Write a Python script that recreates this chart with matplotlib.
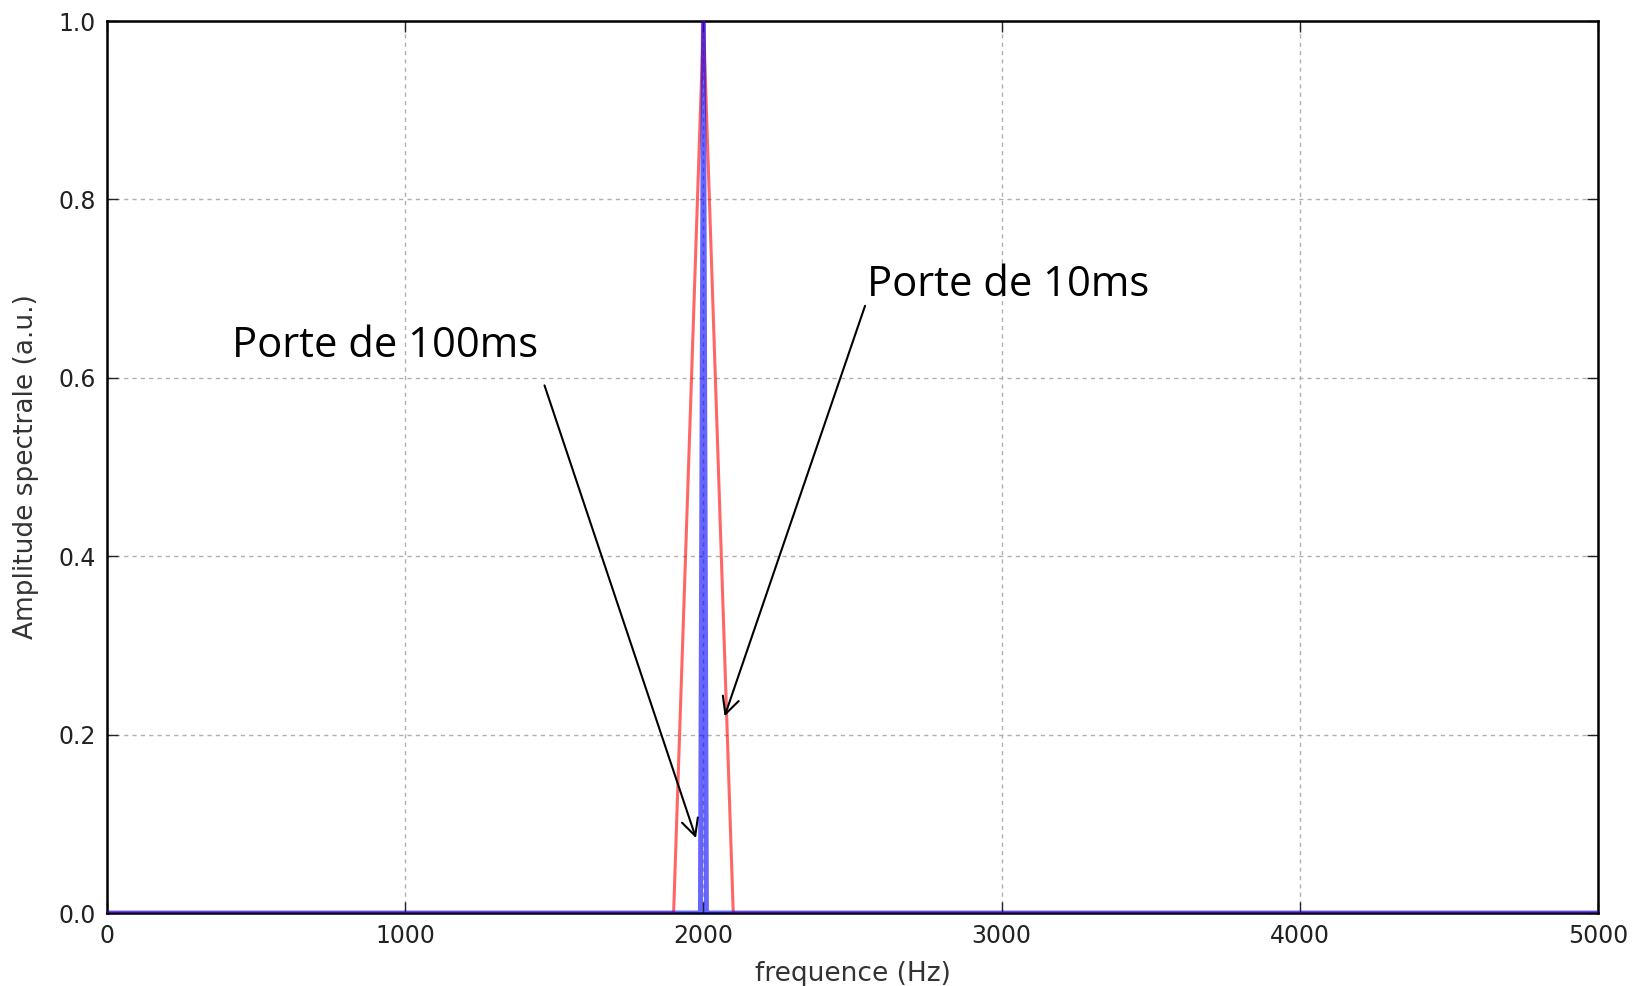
import matplotlib
matplotlib.use("Agg")
import matplotlib.pyplot as plt

# Data
freq_10ms = [0, 1900, 2000, 2100, 5000]
amp_10ms = [0, 0, 1, 0, 0]
freq_100ms = [0, 1990, 2000, 2010, 5000]
amp_100ms = [0, 0, 1, 0, 0]
xticks = [0, 1000, 2000, 3000, 4000, 5000]
yticks = [0.0, 0.2, 0.4, 0.6, 0.8, 1.0]
label_100 = "Porte de 100ms"
label_10 = "Porte de 10ms"

fig = plt.figure(figsize=(16.42, 9.86), dpi=100)
ax = fig.add_axes([0.0652, 0.074, 0.908, 0.9047])

ax.plot(freq_10ms, amp_10ms, color="#ff0000", alpha=0.6, lw=2.2, zorder=3)
ax.plot(freq_100ms, amp_100ms, color="#0000ff", alpha=0.6, lw=3.6, zorder=4)

ax.set_xlim(0, 5000)
ax.set_ylim(0, 1.0)
ax.set_xticks(xticks)
ax.set_yticks(yticks)
ax.set_xticklabels([str(t) for t in xticks])
ax.set_yticklabels([f"{t:.1f}" for t in yticks])
ax.tick_params(direction="in", top=True, right=True, length=8, width=1,
               labelsize=17, colors="#222222", pad=8)
ax.grid(True, color="#b0b0b0", linestyle=(0, (3, 3)), lw=1)
ax.set_axisbelow(True)
for s in ax.spines.values():
    s.set_linewidth(1.8)
    s.set_color("black")

ax.set_xlabel("frequence (Hz)", fontsize=19, color="#333333", labelpad=9)
ax.set_ylabel("Amplitude spectrale (a.u.)", fontsize=19, color="#333333", labelpad=14)

arrow_kw = dict(arrowstyle="->", color="black", lw=1.5,
                mutation_scale=30, shrinkA=0, shrinkB=0)
# text labels
ax.text(418, 0.636, label_100, fontsize=30, family="Open Sans",
        va="center", ha="left")
ax.text(2549, 0.704, label_10, fontsize=30, family="Open Sans",
        va="center", ha="left")
# arrows
ax.annotate("", xy=(1975, 0.084), xytext=(1467, 0.5915), arrowprops=arrow_kw)
ax.annotate("", xy=(2071, 0.2205), xytext=(2542, 0.6807), arrowprops=arrow_kw)

fig.savefig("out.png", dpi=100)
